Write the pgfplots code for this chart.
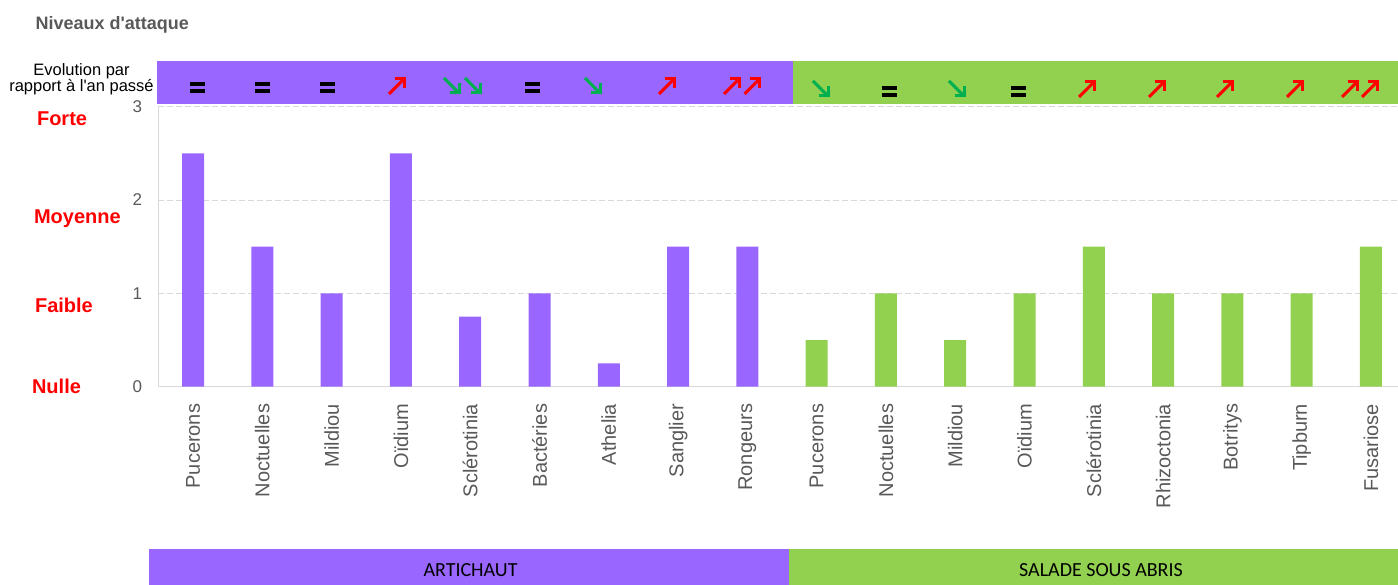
\documentclass[border=0pt]{standalone}
\usepackage{fontspec}
\setmainfont{Liberation Sans}
\newfontfamily\carlito{Carlito}
\usepackage{pgfplots}
\pgfplotsset{compat=1.18}
\definecolor{purp}{HTML}{9966FF}
\definecolor{grn}{HTML}{92D050}
\definecolor{agrn}{HTML}{00B050}
\definecolor{txtgray}{HTML}{595959}
\definecolor{gridgray}{HTML}{D9D9D9}
\newcommand{\up}[3]{\begin{scope}[shift={(#1,#2)}]
 \draw[#3,line width=3pt] (-8,-8)--(6,6);
 \draw[#3,line width=3pt,miter limit=10] (-2.5,7)--(7,7)--(7,-2.5);
\end{scope}}
\newcommand{\dn}[3]{\begin{scope}[shift={(#1,#2)}]
 \draw[#3,line width=3pt] (-8,8)--(6,-6);
 \draw[#3,line width=3pt,miter limit=10] (-2.5,-7)--(7,-7)--(7,2.5);
\end{scope}}
\newcommand{\eq}[2]{\begin{scope}[shift={(#1,#2)}]
 \fill[black] (-7.5,1.5) rectangle (7.5,5.5);
 \fill[black] (-7.5,-1.5) rectangle (7.5,-5.5);
\end{scope}}
\begin{document}
\begin{tikzpicture}[x=1pt,y=1pt]
\path[use as bounding box] (0,0) rectangle (1398,585);
% top bands
\fill[purp] (157,481) rectangle (793,524);
\fill[grn] (793,481) rectangle (1398,524);
% bottom bands
\fill[purp] (149,0) rectangle (789,36);
\fill[grn] (789,0) rectangle (1398,36);
\node[anchor=base, font=\carlito\fontsize{20}{24}\selectfont] at (470.5,8) {ARTICHAUT};
\node[anchor=base, font=\carlito\fontsize{20}{24}\selectfont] at (1101,8) {SALADE SOUS ABRIS};
% titles
\node[anchor=base west, text=txtgray, font=\bfseries\fontsize{18}{22}\selectfont] at (32,555) {Niveaux d\textquotesingle attaque};
\node[anchor=base, font=\fontsize{16.5}{20}\selectfont] at (81.5,509) {Evolution par};
\node[anchor=base, font=\fontsize{16.5}{20}\selectfont] at (81.5,493) {rapport à l\textquotesingle an passé};
% level names
\node[anchor=base west, text=red, font=\bfseries\fontsize{20}{24}\selectfont] at (33.5,459) {Forte};
\node[anchor=base west, text=red, font=\bfseries\fontsize{20}{24}\selectfont] at (30.5,361) {Moyenne};
\node[anchor=base west, text=red, font=\bfseries\fontsize{20}{24}\selectfont] at (31.5,272.3) {Faible};
\node[anchor=base west, text=red, font=\bfseries\fontsize{20}{24}\selectfont] at (28.5,191) {Nulle};
\begin{axis}[
 at={(158.4pt,198.3pt)}, anchor=south west,
 scale only axis, width=1239.6pt, height=280pt,
 xmin=-0.5, xmax=17.39, ymin=0, ymax=3,
 axis x line=bottom, axis y line=left,
 axis line style={draw=gridgray, line width=1pt, -},
 ymajorgrids, grid style={gridgray, line width=1pt, dash pattern=on 6pt off 3pt},
 major tick length=0pt,
 xtick={0,...,17},
 xticklabels={Pucerons,Noctuelles,Mildiou,Oïdium,Sclérotinia,Bactéries,Athelia,Sanglier,Rongeurs,Pucerons,Noctuelles,Mildiou,Oïdium,Sclérotinia,Rhizoctonia,Botritys,Tipburn,Fusariose},
 ytick={0,1,2,3},
 tick label style={text=txtgray},
 xticklabel style={rotate=90, anchor=east, inner sep=0pt, font=\fontsize{20}{24}\selectfont},
 xticklabel shift=17pt,
 yticklabel style={inner sep=0pt, font=\fontsize{17}{20}\selectfont},
 yticklabel shift=16pt,
 /pgf/number format/assume math mode=true,
 ybar, bar width=22pt,
 clip=false,
]
\addplot[ybar, bar shift=0pt, fill=purp, draw=none] coordinates {(0,2.5) (1,1.5) (2,1) (3,2.5) (4,0.75) (5,1) (6,0.25) (7,1.5) (8,1.5)};
\addplot[ybar, bar shift=0pt, fill=grn, draw=none] coordinates {(9,0.5) (10,1) (11,0.5) (12,1) (13,1.5) (14,1) (15,1) (16,1) (17,1.5)};
\end{axis}
% evolution symbols, purple band
\eq{197.5}{497} \eq{262.5}{497} \eq{327.5}{497}
\up{397}{499}{red}
\dn{452}{499}{agrn} \dn{473}{499}{agrn}
\eq{532.5}{497}
\dn{593}{499}{agrn}
\up{667}{499}{red}
\up{732}{499}{red} \up{752.5}{499}{red}
% green band
\dn{821}{496}{agrn}
\eq{889}{493.5}
\dn{957}{496}{agrn}
\eq{1018}{493.5}
\up{1087}{496}{red} \up{1157}{496}{red} \up{1225}{496}{red} \up{1295}{496}{red}
\up{1350}{496}{red} \up{1370}{496}{red}
\end{tikzpicture}
\end{document}
